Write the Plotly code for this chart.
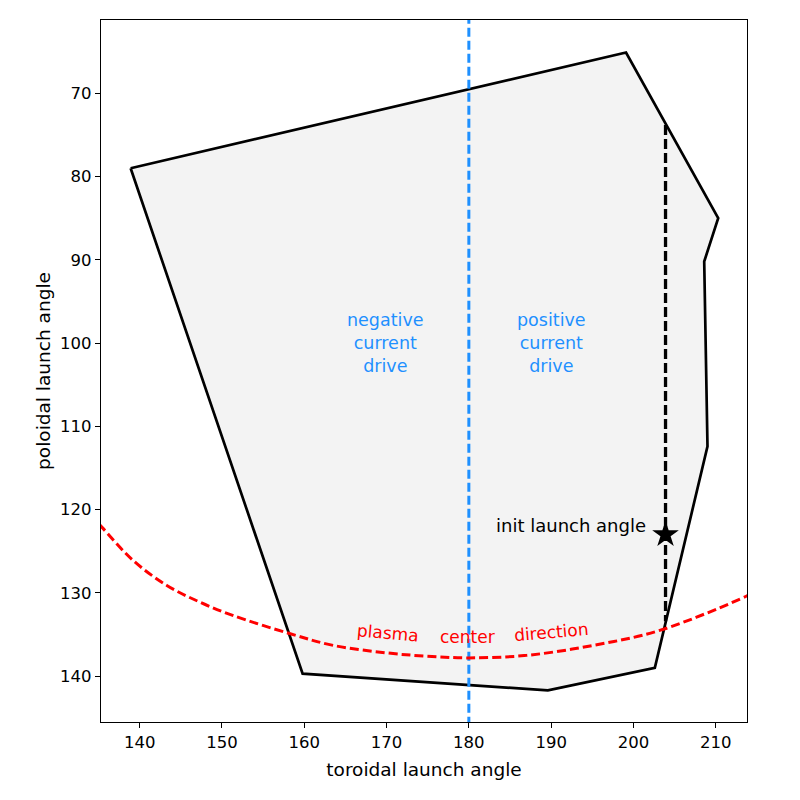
import plotly.graph_objects as go

# polygon of accessible launch angles
poly_tor = [138.9, 199.1, 210.3, 208.6, 209.0, 202.6, 189.6, 159.8, 138.9]
poly_pol = [79.0, 65.1, 85.0, 90.2, 112.4, 139.0, 141.7, 139.7, 79.0]

# plasma center direction curve
curve_tor = [134.0, 135.4, 139.2, 143.3, 147.3, 151.3, 158.3, 163.5, 170.0, 174.9, 180.0, 187.0, 195.1, 203.2, 213.7, 215.0]
curve_pol = [120.6, 122.1, 126.1, 129.1, 131.1, 132.7, 134.9, 136.3, 137.2, 137.6, 137.8, 137.5, 136.3, 134.5, 130.4, 129.7]

# initial launch angle
init_tor = [203.9]
init_pol = [123.0]
init_line_tor = [203.9, 203.9]
init_line_pol = [73.8, 133.4]

center_tor = 180.0
x_range = [135.3, 213.8]
y_range = [145.5, 61.2]
x_ticks = [140, 150, 160, 170, 180, 190, 200, 210]
y_ticks = [70, 80, 90, 100, 110, 120, 130, 140]

FONT = "DejaVu Sans"

fig = go.Figure()
fig.add_trace(go.Scatter(x=poly_tor, y=poly_pol, mode="lines", fill="toself",
                         fillcolor="#f3f3f3", line=dict(color="black", width=2.7),
                         showlegend=False, hoverinfo="skip"))
fig.add_trace(go.Scatter(x=init_line_tor, y=init_line_pol, mode="lines",
                         line=dict(color="black", width=3.3, dash="10px,4px"),
                         showlegend=False))
fig.add_trace(go.Scatter(x=[center_tor, center_tor], y=[y_range[0] + 2, y_range[1] - 2], mode="lines",
                         line=dict(color="#1E90FF", width=3, dash="9px,4px"),
                         showlegend=False))
fig.add_trace(go.Scatter(x=curve_tor, y=curve_pol, mode="lines",
                         line=dict(color="red", width=3, dash="9px,4px", shape="spline"),
                         showlegend=False))
fig.add_trace(go.Scatter(x=init_tor, y=init_pol, mode="markers",
                         marker=dict(symbol="star", size=20, color="black"),
                         showlegend=False))

fig.add_annotation(x=201.8, y=121.9, text="init launch angle", showarrow=False,
                   xanchor="right", yanchor="middle", font=dict(family=FONT, size=18, color="black"))
fig.add_annotation(x=169.9, y=100.0, text="negative<br>current<br>drive", showarrow=False,
                   align="center", font=dict(family=FONT, size=17.5, color="#1E90FF"))
fig.add_annotation(x=190.1, y=100.0, text="positive<br>current<br>drive", showarrow=False,
                   align="center", font=dict(family=FONT, size=17.5, color="#1E90FF"))
fig.add_annotation(x=170.2, y=134.8, text="plasma", showarrow=False, textangle=5,
                   font=dict(family=FONT, size=17, color="red"))
fig.add_annotation(x=179.8, y=135.3, text="center", showarrow=False, textangle=0,
                   font=dict(family=FONT, size=17, color="red"))
fig.add_annotation(x=190.1, y=134.7, text="direction", showarrow=False, textangle=-5,
                   font=dict(family=FONT, size=17, color="red"))

axis_common = dict(showgrid=False, zeroline=False, showline=True, linecolor="black", linewidth=1.2,
                   mirror=True, ticks="outside", ticklen=5, tickcolor="black",
                   tickfont=dict(family=FONT, size=16.5, color="black"))
fig.update_xaxes(range=x_range, tickvals=x_ticks, title=dict(text="toroidal launch angle",
                 font=dict(family=FONT, size=18.5, color="black"), standoff=12), **axis_common)
fig.update_yaxes(range=y_range, tickvals=y_ticks, title=dict(text="poloidal launch angle",
                 font=dict(family=FONT, size=18.5, color="black"), standoff=4), **axis_common)

fig.update_layout(width=800, height=800, margin=dict(l=101, r=53, t=20, b=78),
                  paper_bgcolor="white", plot_bgcolor="white", showlegend=False)
fig.write_html("out.html")
